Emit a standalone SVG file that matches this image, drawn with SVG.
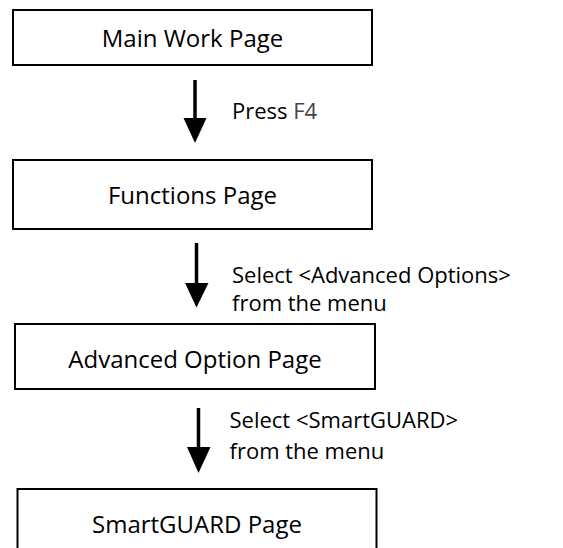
<svg xmlns="http://www.w3.org/2000/svg" width="563" height="548" viewBox="0 0 563 548">
<style>
.box{fill:#fff;stroke:#000;stroke-width:2}
.bt{font-family:"Open Sans","Noto Sans",sans-serif;font-size:24px;fill:#000;text-anchor:middle}
.lb{font-family:"Open Sans","Noto Sans",sans-serif;font-size:22px;fill:#000}
.shaft{stroke:#000;stroke-width:3.5}
.head{fill:#000}
</style>
<rect width="563" height="548" fill="#fff"/>
<g id="main-work-page">
<rect class="box" x="13" y="10" width="359" height="55"/>
<text class="bt" x="192.5" y="46.5">Main Work Page</text>
</g>
<g id="functions-page">
<rect class="box" x="13" y="160" width="359" height="69"/>
<text class="bt" x="192.5" y="203.5">Functions Page</text>
</g>
<g id="advanced-option-page">
<rect class="box" x="15" y="324" width="360" height="65"/>
<text class="bt" x="195" y="368">Advanced Option Page</text>
</g>
<g id="smartguard-page">
<rect class="box" x="17.5" y="489" width="359" height="80"/>
<text class="bt" x="197" y="532.5">SmartGUARD Page</text>
</g>
<g id="connectors">
<line class="shaft" x1="195" y1="80" x2="195" y2="120"/>
<polygon class="head" points="183.5,118 206.5,118 195,143"/>
<text class="lb" x="232" y="119">Press <tspan fill="#444">F4</tspan></text>
<line class="shaft" x1="196.5" y1="243" x2="196.5" y2="285"/>
<polygon class="head" points="185,283 208.5,283 196.5,307.5"/>
<text class="lb" x="232" y="283">Select &lt;Advanced Options&gt;</text>
<text class="lb" x="232" y="310.5">from the menu</text>
<line class="shaft" x1="198.5" y1="408" x2="198.5" y2="449"/>
<polygon class="head" points="187,447 210.5,447 198.5,473"/>
<text class="lb" x="229.5" y="428">Select &lt;SmartGUARD&gt;</text>
<text class="lb" x="229.5" y="459">from the menu</text>
</g>
</svg>
